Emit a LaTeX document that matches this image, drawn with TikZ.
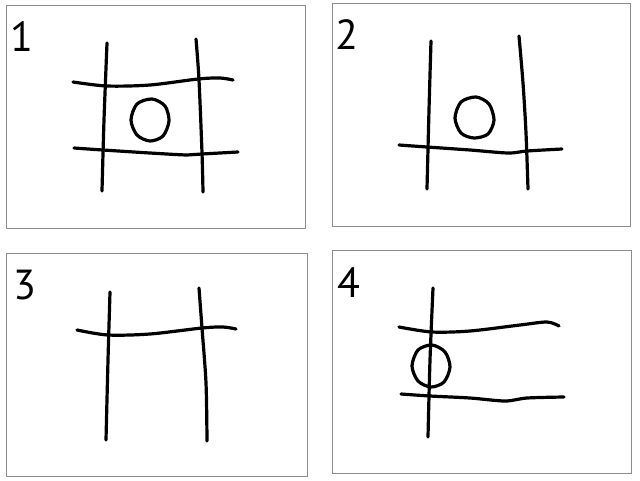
\documentclass[tikz,border=0pt]{standalone}
\usepackage{fontspec}
\setmainfont{PT Sans}
\begin{document}
\begin{tikzpicture}[x=1pt,y=-1pt,
  frame/.style={draw=black!45,line width=0.9pt},
  stroke/.style={draw=black,line width=3.2pt,line cap=round,line join=round},
  num/.style={inner sep=0pt,anchor=base,font=\fontsize{42}{42}\selectfont}]
\useasboundingbox (0,0) rectangle (640,480);
% frames
\draw[frame] (6,5) rectangle (305,228);
\draw[frame] (332,3) rectangle (630,226);
\draw[frame] (6,253) rectangle (307,476);
\draw[frame] (332,250) rectangle (631,473);
% labels
\node[num] (n1) at (22,51) {1};
\node[num] (n2) at (347,49) {2};
\node[num] (n3) at (25,299) {3};
\node[num] (n4) at (349,297) {4};
% panel 1
\draw[stroke] plot[smooth] coordinates {(107,43) (104,120) (102,191)};
\draw[stroke] plot[smooth] coordinates {(196,39) (199,80) (202,153) (203,192)};
\draw[stroke] plot[smooth] coordinates {(73,82) (107,86) (150,85) (198,79) (220,78) (233,80)};
\draw[stroke] plot[smooth] coordinates {(74,148) (103,150) (150,153) (187,155) (202,154) (238,152)};
\draw[stroke] plot[smooth cycle] coordinates {(152,99) (165,106) (169,121) (163,136) (150,141) (137,135) (131,120) (137,104)};
% panel 2
\draw[stroke] plot[smooth] coordinates {(431,41) (429,110) (427,189)};
\draw[stroke] plot[smooth] coordinates {(519,36) (523,83) (526,133) (528,189)};
\draw[stroke] plot[smooth] coordinates {(399,145) (427,147) (470,150) (508,153) (527,151) (562,149)};
\draw[stroke] plot[smooth cycle] coordinates {(476,97) (489,104) (494,120) (488,134) (474,138) (461,133) (455,118) (461,102)};
% panel 3
\draw[stroke] plot[smooth] coordinates {(110,292) (108,360) (106,440)};
\draw[stroke] plot[smooth] coordinates {(199,288) (202,328) (206,383) (207,441)};
\draw[stroke] plot[smooth] coordinates {(77,330) (108,335) (150,334) (202,328) (223,327) (236,329)};
% panel 4
\draw[stroke] plot[smooth] coordinates {(433,288) (430,360) (428,437)};
\draw[stroke] plot[smooth] coordinates {(399,327) (432,332) (470,331) (520,325) (547,322) (559,326)};
\draw[stroke] plot[smooth] coordinates {(401,394) (430,396) (470,398) (505,401) (527,398) (564,397)};
\draw[stroke] plot[smooth cycle] coordinates {(432,345) (445,352) (450,367) (444,382) (431,387) (418,381) (412,366) (418,350)};
\end{tikzpicture}
\end{document}
